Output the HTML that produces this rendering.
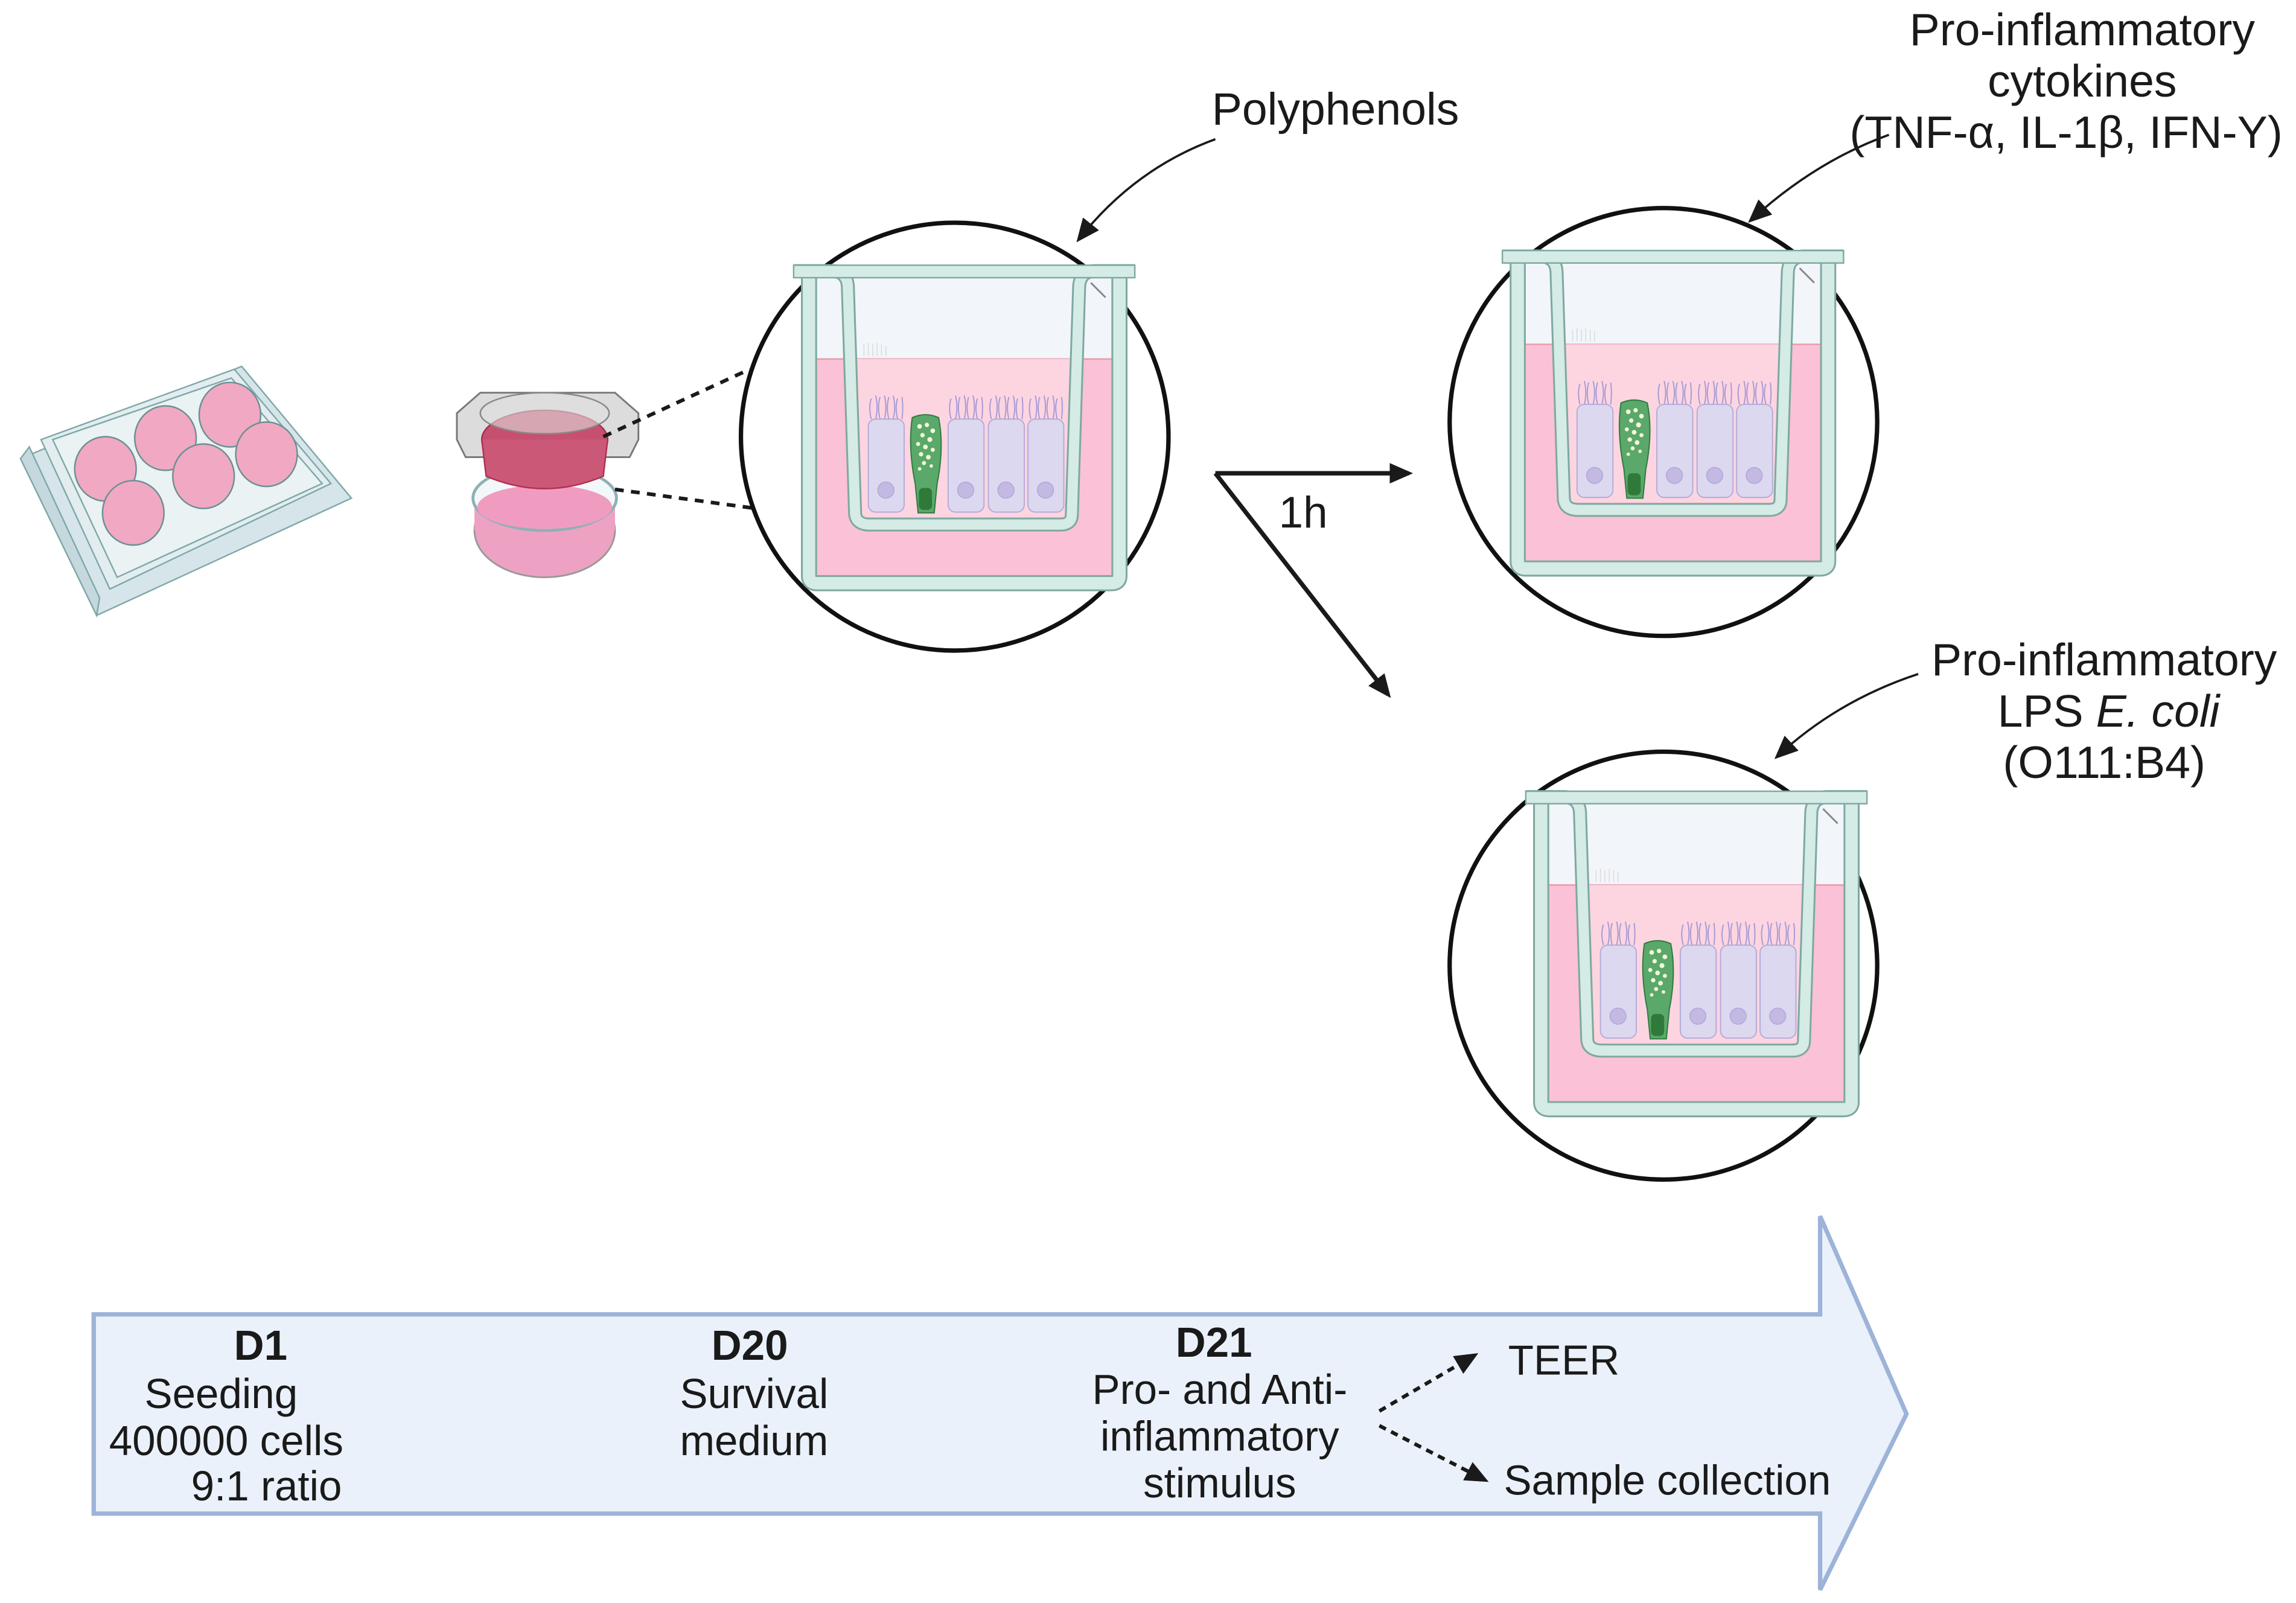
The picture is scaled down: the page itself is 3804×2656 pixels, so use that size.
<!DOCTYPE html>
<html><head><meta charset="utf-8"><style>
html,body{margin:0;padding:0;background:#fff;}
svg{display:block;}
text{font-family:"Liberation Sans",sans-serif;fill:#1a1a1a;}
</style></head><body>
<svg width="3804" height="2656" viewBox="0 0 1568 1094" preserveAspectRatio="none" xmlns="http://www.w3.org/2000/svg">
<defs>
<marker id="ah2" markerWidth="16" markerHeight="16" refX="13" refY="8" orient="auto" markerUnits="userSpaceOnUse" viewBox="0 0 16 16">
<path d="M0,1 L16,8 L0,15 z" fill="#1a1a1a"/></marker>
<g id="cell">
  <path d="M2,-14 q-2,6 0,14 M5,-16 q2,8 0,16 M8,-15 q-2,7 0,15 M11,-16 q2,8 0,16 M14,-15 q-2,7 0,15 M17,-16 q2,8 0,16 M20,-14 q-2,6 0,14 M23,-15 q1,7 0,15" stroke="#a79ad6" stroke-width="0.8" fill="none"/>
  <rect x="0" y="0" width="24.5" height="63.5" rx="5" fill="#dcd8ef" stroke="#b4abd9" stroke-width="0.8"/>
  <circle cx="12" cy="48.5" r="5.5" fill="#c3b9e3" stroke="#b0a6d8" stroke-width="0.6"/>
</g>
<g id="insert">
  <rect x="10" y="7" width="213" height="57" fill="#f2f5fa"/>
  <line x1="10" y1="7" x2="223" y2="7" stroke="#c9ced8" stroke-width="1.2"/>
  <rect x="10" y="64" width="213" height="153" rx="6" fill="#fbc1d6"/>
  <line x1="10" y1="64" x2="223" y2="64" stroke="#e69aa8" stroke-width="1"/>
  <path d="M40,64 L45,172 L188,172 L192,64 z" fill="#fcd5e1"/>
  <rect x="47" y="173" width="139" height="8" fill="#f4d4dc"/>
  <g fill="#d4ebe6" stroke="#7fa8a0" stroke-width="0.8">
    <rect x="57" y="173.5" width="5" height="7"/><rect x="67" y="173.5" width="5" height="7"/><rect x="77" y="173.5" width="5" height="7"/><rect x="87" y="173.5" width="5" height="7"/><rect x="97" y="173.5" width="5" height="7"/><rect x="107" y="173.5" width="5" height="7"/><rect x="117" y="173.5" width="5" height="7"/><rect x="127" y="173.5" width="5" height="7"/><rect x="137" y="173.5" width="5" height="7"/><rect x="147" y="173.5" width="5" height="7"/><rect x="157" y="173.5" width="5" height="7"/><rect x="167" y="173.5" width="5" height="7"/>
  </g>
  <path d="M48,62 v-8 M51,62 v-9 M54,62 v-8 M57,62 v-9 M60,62 v-8 M63,62 v-7" stroke="#ddd" stroke-width="0.7"/>
  <use href="#cell" x="51" y="105"/>
  <use href="#cell" x="105.5" y="105"/>
  <use href="#cell" x="133" y="105"/>
  <use href="#cell" x="160" y="105"/>
  <path d="M81,104 q9,-4 18,0 q4,20 -1,45 l-2,20 h-11 l-2,-20 q-5,-25 -2,-45 z" fill="#5aa86a" stroke="#2e7a3e" stroke-width="0.8"/>
  <rect x="85.5" y="152" width="9" height="15" rx="3" fill="#2f7a3a"/>
  <g fill="#f3f6d8"><circle cx="86" cy="110" r="1.6"/><circle cx="91" cy="109" r="1.5"/><circle cx="95" cy="113" r="1.6"/><circle cx="88" cy="116" r="1.5"/><circle cx="93" cy="119" r="1.7"/><circle cx="85" cy="122" r="1.4"/><circle cx="90" cy="124" r="1.6"/><circle cx="95" cy="126" r="1.4"/><circle cx="87" cy="129" r="1.5"/><circle cx="92" cy="131" r="1.6"/><circle cx="89" cy="135" r="1.4"/><circle cx="94" cy="137" r="1.2"/><circle cx="86" cy="139" r="1.2"/></g>
  <path d="M10.5,6 L10.5,212 Q10.5,217 16,217 L217,217 Q222.5,217 222.5,212 L222.5,6" fill="none" stroke="#7fa8a0" stroke-width="11"/>
  <path d="M10.5,6 L10.5,212 Q10.5,217 16,217 L217,217 Q222.5,217 222.5,212 L222.5,6" fill="none" stroke="#d4ebe6" stroke-width="8.5"/>
  <path d="M0,4 L26,4 Q36,4 37,14 L42,170 Q43,177 52,177 L182,177 Q190,177 190,170 L195,14 Q196,4 206,4 L233,4" fill="none" stroke="#7fa8a0" stroke-width="9.5"/>
  <path d="M0,4 L26,4 Q36,4 37,14 L42,170 Q43,177 52,177 L182,177 Q190,177 190,170 L195,14 Q196,4 206,4 L233,4" fill="none" stroke="#d4ebe6" stroke-width="7"/>
  <rect x="0" y="0" width="233" height="8.5" fill="#d4ebe6" stroke="#7fa8a0" stroke-width="1"/>
  <line x1="203" y1="12" x2="213" y2="22" stroke="#888" stroke-width="1.2"/>
</g>
</defs>

<!-- well plate -->
<g stroke="#7fa8a8" stroke-width="1">
  <path d="M14,313 L165,250 L240,340 L66,420 Z" fill="#d6e5ea"/>
  <path d="M14,313 L66,420 L68,408 L20,305 Z" fill="#c5d8dd"/>
  <path d="M28,300 L160,252 L226,330 L75,402 Z" fill="#e3edf0"/>
  <path d="M36,300 L158,258 L220,330 L80,394 Z" fill="#eaf2f4"/>
</g>
<g stroke="#6b8f92" stroke-width="1" fill="#f0a8c3">
  <ellipse cx="72" cy="320" rx="21" ry="22"/>
  <ellipse cx="113" cy="299" rx="21" ry="22"/>
  <ellipse cx="157" cy="283" rx="21" ry="22"/>
  <ellipse cx="91" cy="350" rx="21" ry="22"/>
  <ellipse cx="139" cy="325" rx="21" ry="22"/>
  <ellipse cx="182" cy="310" rx="21" ry="22"/>
</g>

<!-- transwell small -->
<ellipse cx="372" cy="362" rx="48" ry="32" fill="#eda2c3" stroke="#999" stroke-width="1.2"/>
<rect x="324" y="340" width="96" height="22" fill="#eda2c3"/>
<ellipse cx="372" cy="340" rx="49" ry="22" fill="#f2f7f9" stroke="#8fb0b4" stroke-width="2"/>
<ellipse cx="372" cy="346" rx="46" ry="15" fill="#f09cc0"/>
<path d="M312,282 L328,268 L420,268 L436,282 L436,300 L430,312 L318,312 L312,300 Z" fill="#dcdcdc" stroke="#777" stroke-width="1.2"/>
<ellipse cx="372" cy="300" rx="43" ry="20" fill="#c8506f" stroke="#a0304f" stroke-width="1"/>
<path d="M329,300 L332,325 Q372,342 412,325 L415,300" fill="#cc5878" stroke="#b03050" stroke-width="1"/>
<ellipse cx="372" cy="282" rx="44" ry="14" fill="#e0e0e0" fill-opacity="0.6" stroke="#888" stroke-width="1"/>

<line x1="412" y1="298" x2="512" y2="252" stroke="#1a1a1a" stroke-width="2.5" stroke-dasharray="6,5"/>
<line x1="420" y1="334" x2="516" y2="347" stroke="#1a1a1a" stroke-width="2.5" stroke-dasharray="6,5"/>

<circle cx="652" cy="298" r="146" fill="#fff" stroke="#111" stroke-width="3"/>
<use href="#insert" x="542" y="181"/>
<circle cx="1136" cy="288" r="146" fill="#fff" stroke="#111" stroke-width="3"/>
<use href="#insert" x="1026" y="171"/>
<circle cx="1136" cy="659" r="146" fill="#fff" stroke="#111" stroke-width="3"/>
<use href="#insert" x="1042" y="540"/>

<text x="912" y="85" font-size="31" text-anchor="middle">Polyphenols</text>
<text x="1422" y="31" font-size="31" text-anchor="middle">Pro-inflammatory</text>
<text x="1422" y="66" font-size="31" text-anchor="middle">cytokines</text>
<text x="1411" y="101" font-size="31" text-anchor="middle">(TNF-α, IL-1β, IFN-Y)</text>
<text x="1437" y="461" font-size="31" text-anchor="middle">Pro-inflammatory</text>
<text x="1440" y="496" font-size="31" text-anchor="middle">LPS <tspan font-style="italic">E. coli</tspan></text>
<text x="1437" y="531" font-size="31" text-anchor="middle">(O111:B4)</text>
<text x="890" y="360" font-size="30" text-anchor="middle">1h</text>

<path d="M830,95 Q775,115 737,163" fill="none" stroke="#1a1a1a" stroke-width="1.5" marker-end="url(#ah2)"/>
<path d="M1290,92 Q1240,110 1196,150" fill="none" stroke="#1a1a1a" stroke-width="1.5" marker-end="url(#ah2)"/>
<path d="M1310,460 Q1255,478 1214,516" fill="none" stroke="#1a1a1a" stroke-width="1.5" marker-end="url(#ah2)"/>

<line x1="830" y1="323" x2="962" y2="323" stroke="#1a1a1a" stroke-width="3" marker-end="url(#ah2)"/>
<line x1="830" y1="323" x2="948" y2="474" stroke="#1a1a1a" stroke-width="3" marker-end="url(#ah2)"/>

<path d="M64,897 L1243,897 L1243,830 L1302,965 L1243,1085 L1243,1033 L64,1033 Z" fill="#eaf1fa" stroke="#9db3d8" stroke-width="3"/>

<text x="178" y="928" font-size="28.5" font-weight="bold" text-anchor="middle">D1</text>
<text x="151" y="961" font-size="28.5" text-anchor="middle">Seeding</text>
<text x="154.5" y="993" font-size="28.5" text-anchor="middle">400000 cells</text>
<text x="182" y="1024" font-size="28.5" text-anchor="middle">9:1 ratio</text>
<text x="512" y="928" font-size="28.5" font-weight="bold" text-anchor="middle">D20</text>
<text x="515" y="961" font-size="28.5" text-anchor="middle">Survival</text>
<text x="515" y="993" font-size="28.5" text-anchor="middle">medium</text>
<text x="829" y="926" font-size="28.5" font-weight="bold" text-anchor="middle">D21</text>
<text x="833" y="958" font-size="28.5" text-anchor="middle">Pro- and Anti-</text>
<text x="833" y="990" font-size="28.5" text-anchor="middle">inflammatory</text>
<text x="833" y="1022" font-size="28.5" text-anchor="middle">stimulus</text>
<text x="1030" y="938" font-size="28.5">TEER</text>
<text x="1027" y="1020" font-size="28.5">Sample collection</text>

<line x1="942" y1="963" x2="1007" y2="925" stroke="#1a1a1a" stroke-width="2.5" stroke-dasharray="5,4" marker-end="url(#ah2)"/>
<line x1="942" y1="973" x2="1014" y2="1010" stroke="#1a1a1a" stroke-width="2.5" stroke-dasharray="5,4" marker-end="url(#ah2)"/>
</svg>
</body></html>
